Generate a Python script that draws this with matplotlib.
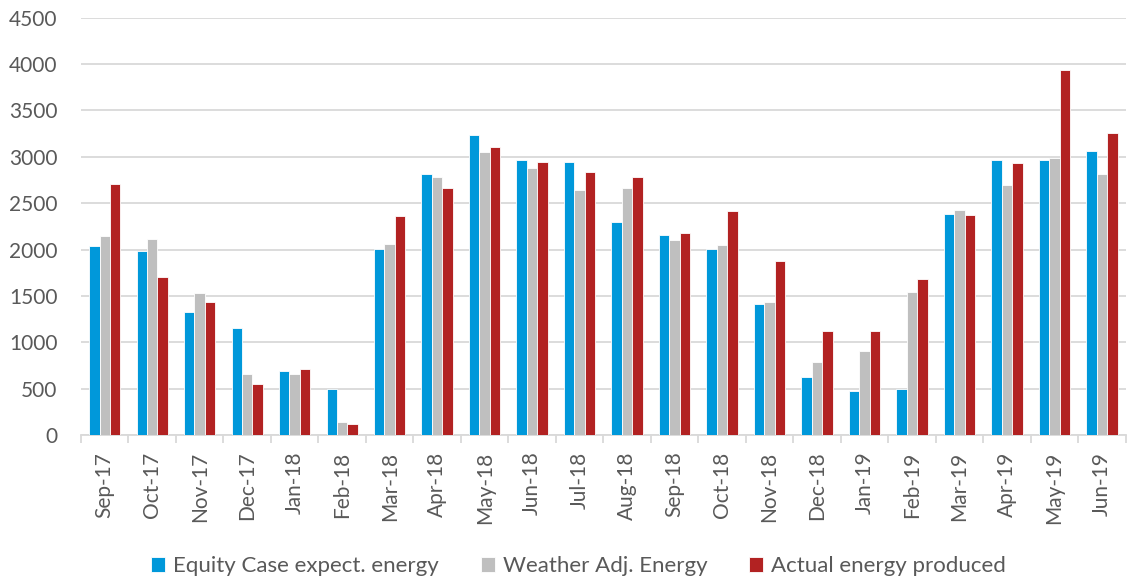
import numpy as np
import matplotlib.pyplot as plt

# monthly energy figures
months = ["Sep-17", "Oct-17", "Nov-17", "Dec-17", "Jan-18", "Feb-18", "Mar-18",
          "Apr-18", "May-18", "Jun-18", "Jul-18", "Aug-18", "Sep-18", "Oct-18",
          "Nov-18", "Dec-18", "Jan-19", "Feb-19", "Mar-19", "Apr-19", "May-19",
          "Jun-19"]
equity_case = [2040, 1985, 1327, 1155, 694, 496, 2007, 2820, 3233, 2964, 2942,
               2302, 2158, 2007, 1410, 629, 478, 496, 2385, 2971, 2971, 3061]
weather_adj = [2147, 2118, 1532, 658, 658, 140, 2061, 2784, 3054, 2881, 2647,
               2662, 2104, 2050, 1432, 788, 906, 1546, 2424, 2694, 2982, 2813]
actual = [2705, 1701, 1439, 547, 709, 119, 2363, 2665, 3107, 2949, 2838,
          2777, 2176, 2413, 1879, 1119, 1119, 1680, 2370, 2931, 3931, 3262]

series = [("Equity Case expect. energy", equity_case, "#0098DA"),
          ("Weather Adj. Energy", weather_adj, "#BFBFBF"),
          ("Actual energy produced", actual, "#B22222")]

plt.rcParams['font.family'] = ['Lato', 'DejaVu Sans']
txt = "#595959"
grid = "#D9D9D9"

fig = plt.figure(figsize=(11.28, 5.79), dpi=100)
ax = fig.add_axes([0.0718, 0.2487, 0.9262, 0.7207])

x = np.arange(len(months))
w = 0.22
for k, (name, vals, col) in enumerate(series):
    ax.bar(x + (k - 1) * w, vals, w, color=col, edgecolor="white",
           linewidth=0.6, label=name, zorder=3)

ax.set_xlim(-0.5, len(months) - 0.5)
ax.set_ylim(0, 4500)
ax.set_yticks(range(0, 4501, 500))
ax.yaxis.grid(True, color=grid, linewidth=1.3, zorder=0)
ax.tick_params(axis="y", length=0, pad=17, labelsize=15, labelcolor=txt)

ax.set_xticks(x)
ax.set_xticklabels(months, rotation=90)
ax.set_xticks(np.arange(-0.5, len(months), 1), minor=True)
ax.tick_params(axis="x", which="major", length=0, pad=12, labelsize=15,
               labelcolor=txt)
ax.tick_params(axis="x", which="minor", length=6, width=1.3, color=grid)

for s in ["top", "right", "left"]:
    ax.spines[s].set_visible(False)
ax.spines["bottom"].set_color(grid)
ax.spines["bottom"].set_linewidth(1.3)

fig.legend(loc="lower center", bbox_to_anchor=(0.513, -0.03), ncol=3,
           frameon=False, fontsize=16, labelcolor=txt, handlelength=0.62,
           handleheight=0.62, handletextpad=0.35, columnspacing=1.9)

fig.savefig("out.png", dpi=100)
